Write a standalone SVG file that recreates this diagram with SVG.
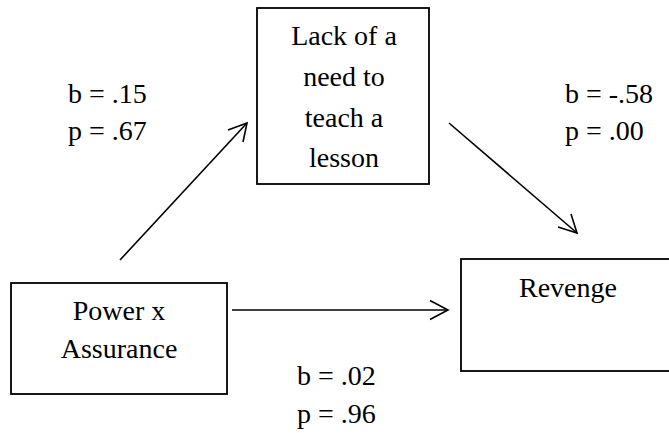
<svg xmlns="http://www.w3.org/2000/svg" width="669" height="433" viewBox="0 0 669 433">
  <rect width="669" height="433" fill="#ffffff"/>

  <g id="node-lack" font-family="Liberation Serif, serif" font-size="28" text-anchor="middle">
    <rect x="257" y="8" width="172" height="176" fill="#ffffff" stroke="#000000" stroke-width="1.8"/>
    <text x="344" y="45">Lack of a</text>
    <text x="344" y="86">need to</text>
    <text x="344" y="127">teach a</text>
    <text x="344" y="167">lesson</text>
  </g>

  <g id="node-power" font-family="Liberation Serif, serif" font-size="28" text-anchor="middle">
    <rect x="11" y="283" width="216" height="111" fill="#ffffff" stroke="#000000" stroke-width="1.8"/>
    <text x="119" y="320">Power x</text>
    <text x="119" y="358">Assurance</text>
  </g>

  <g id="node-revenge" font-family="Liberation Serif, serif" font-size="28" text-anchor="middle">
    <rect x="461" y="259" width="230" height="112" fill="#ffffff" stroke="#000000" stroke-width="1.8"/>
    <text x="568" y="297">Revenge</text>
  </g>

  <!-- straight connectors, each ending in an open chevron head -->
  <g id="connectors" fill="none" stroke="#000000" stroke-width="1.6">
    <line x1="120" y1="260" x2="247" y2="123"/>
    <path d="M 228 130 L 247 123 L 243 142"/>
    <line x1="449" y1="123" x2="577" y2="233"/>
    <path d="M 558 227 L 577 233 L 571 214"/>
    <line x1="232" y1="310" x2="448" y2="310"/>
    <path d="M 430 300.5 L 448 310 L 430 319.5"/>
  </g>

  <g id="labels" font-family="Liberation Serif, serif" font-size="28">
    <text x="68" y="103">b = .15</text>
    <text x="68" y="140">p = .67</text>
    <text x="565" y="103">b = -.58</text>
    <text x="565" y="140">p = .00</text>
    <text x="297" y="385">b = .02</text>
    <text x="297" y="423">p = .96</text>
  </g>
</svg>
